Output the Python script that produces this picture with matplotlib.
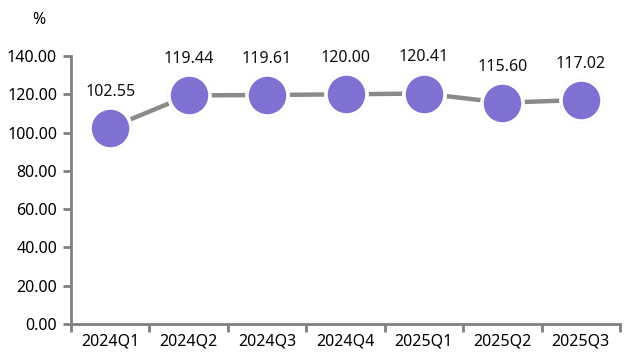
import matplotlib.pyplot as plt
import numpy as np

quarters = ['2024Q1', '2024Q2', '2024Q3', '2024Q4', '2025Q1', '2025Q2', '2025Q3']
values = [102.55, 119.44, 119.61, 120.00, 120.41, 115.60, 117.02]

plt.rcParams['font.family'] = ['Noto Sans', 'DejaVu Sans']
FS = 11.5

fig = plt.figure(figsize=(6.31, 3.64), dpi=100)
ax = fig.add_axes([71/631, 40/364, 549/631, 268/364])

x = np.arange(len(quarters))
ax.plot(x, values, color='#8a8a8a', linewidth=3.2, solid_capstyle='round', zorder=2)
ax.plot(x, values, linestyle='none', marker='o', markersize=31,
        markerfacecolor='#e2e2e2', markeredgecolor='#e2e2e2', zorder=3)
ax.plot(x, values, linestyle='none', marker='o', markersize=29.5,
        markerfacecolor='#7f71d2', markeredgecolor='white', markeredgewidth=2.5, zorder=4)

for xi, v in zip(x, values):
    ax.annotate(f'{v:.2f}', (xi, v), xytext=(0, 26), textcoords='offset points',
                ha='center', va='center', fontsize=FS, color='#111111')

ax.set_xlim(-0.5, len(quarters) - 0.5)
ax.set_ylim(0, 140)
ax.set_yticks(np.arange(0, 141, 20))
ax.set_yticklabels([f'{t:.2f}' for t in np.arange(0, 141, 20)], fontsize=FS)
ax.set_xticks(x)
ax.set_xticklabels(quarters, fontsize=FS)
ax.tick_params(axis='x', which='major', length=0, pad=7)
ax.set_xticks(np.arange(-0.5, len(quarters), 1), minor=True)
ax.tick_params(axis='x', which='minor', length=6, width=2, color='#808080')
ax.tick_params(axis='y', length=6, width=2, color='#808080', pad=4)

for s in ['top', 'right']:
    ax.spines[s].set_visible(False)
for s in ['left', 'bottom']:
    ax.spines[s].set_color('#808080')
    ax.spines[s].set_linewidth(2)

fig.text(39/631, 1 - 20/364, '%', ha='center', va='center', fontsize=FS)

fig.savefig('out.png', dpi=100)
